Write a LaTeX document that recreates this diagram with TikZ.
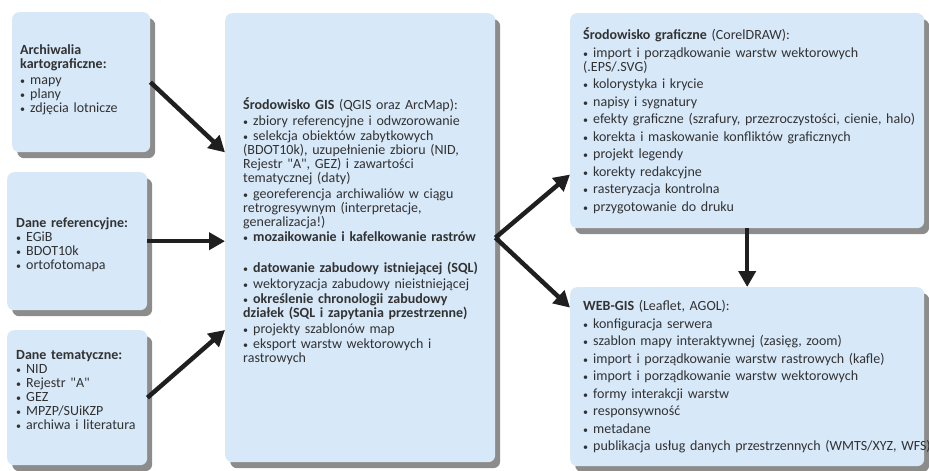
\documentclass[tikz,border=0pt]{standalone}
\usepackage{fontspec}
\setmainfont{Carlito}
\usetikzlibrary{arrows.meta,calc,shadows}
\definecolor{boxblue}{RGB}{215,232,249}
\definecolor{shade}{RGB}{140,140,140}
\definecolor{txtgray}{RGB}{50,50,50}
\newcommand{\itm}[1]{\par\hangindent=10pt\hangafter=1\noindent\makebox[10pt][l]{\fontsize{10}{10}\selectfont\textbullet}#1}
\newcommand{\qq}{\textquotedbl}
\begin{document}
\begin{tikzpicture}[x=1pt,y=-1pt,
  box/.style={fill=boxblue, rounded corners=7pt, anchor=north west, inner sep=0pt,
    general shadow={fill=shade, shadow xshift=5pt, shadow yshift=-6pt}},
  txt/.style={anchor=west, align=left, inner sep=0pt, text=txtgray,
    font=\fontsize{14}{14}\selectfont, text width=#1},
  arr/.style={line width=4.5pt, draw=black!88, -{Triangle[length=16pt,width=17pt]}}
]
\useasboundingbox (0,0) rectangle (929,471);

% boxes
\node[box, minimum width=138pt, minimum height=140pt] (A) at (12,12) {};
\node[box, minimum width=140pt, minimum height=138pt] (B) at (7,172) {};
\node[box, minimum width=140pt, minimum height=135pt] (C) at (7,330) {};
\node[box, minimum width=270pt, minimum height=449pt] (GIS) at (225,13) {};
\node[box, minimum width=354pt, minimum height=215pt] (D) at (570,13) {};
\node[box, minimum width=354pt, minimum height=179pt] (E) at (570,287) {};

% texts
\node[txt=128pt] (At) at ($(A.west)+(8,-2)$)
  {\setlength{\parskip}{0pt}\textbf{Archiwalia}\\\textbf{kartograficzne:}\par\vspace{2pt}\itm{mapy}\itm{plany}\itm{zdjęcia lotnicze}};
\node[txt=128pt] (Bt) at ($(B.west)+(9,4)$)
  {\setlength{\parskip}{0pt}\textbf{Dane referencyjne:}\itm{EGiB}\itm{BDOT10k}\itm{ortofotomapa}};
\node[txt=128pt] (Ct) at ($(C.west)+(9,-8)$)
  {\setlength{\parskip}{0pt}\textbf{Dane tematyczne:}\itm{NID}\itm{Rejestr \qq A\qq}\itm{GEZ}\itm{MPZP/SUiKZP}\itm{archiwa i literatura}};
\node[txt=260pt] (GISt) at ($(GIS.west)+(18,-6)$)
  {\setlength{\parskip}{1.5pt}\textbf{Środowisko GIS} (QGIS oraz ArcMap):%
   \itm{zbiory referencyjne i odwzorowanie}%
   \itm{selekcja obiektów zabytkowych\\(BDOT10k), uzupełnienie zbioru (NID,\\Rejestr \qq A\qq, GEZ) i zawartości\\tematycznej (daty)}%
   \itm{georeferencja archiwaliów w ciągu\\retrogresywnym (interpretacje,\\generalizacja!)}%
   \itm{\textbf{mozaikowanie i kafelkowanie rastrów}}%
   \par\mbox{}%
   \itm{\textbf{datowanie zabudowy istniejącej (SQL)}}%
   \itm{wektoryzacja zabudowy nieistniejącej}%
   \itm{\textbf{określenie chronologii zabudowy}\\\textbf{działek (SQL i zapytania przestrzenne)}}%
   \itm{projekty szablonów map}%
   \itm{eksport warstw wektorowych i\\rastrowych}};
\node[txt=350pt] (Dt) at ($(D.west)+(13,0)$)
  {\setlength{\parskip}{3.5pt}\textbf{Środowisko graficzne} (CorelDRAW):%
   \itm{import i porządkowanie warstw wektorowych\\(.EPS/.SVG)}%
   \itm{kolorystyka i krycie}%
   \itm{napisy i sygnatury}%
   \itm{efekty graficzne (szrafury, przezroczystości, cienie, halo)}%
   \itm{korekta i maskowanie konfliktów graficznych}%
   \itm{projekt legendy}%
   \itm{korekty redakcyjne}%
   \itm{rasteryzacja kontrolna}%
   \itm{przygotowanie do druku}};
\node[txt=350pt] (Et) at ($(E.west)+(13,0)$)
  {\setlength{\parskip}{3.5pt}\textbf{WEB-GIS} (Leaflet, AGOL):%
   \itm{konfiguracja serwera}%
   \itm{szablon mapy interaktywnej (zasięg, zoom)}%
   \itm{import i porządkowanie warstw rastrowych (kafle)}%
   \itm{import i porządkowanie warstw wektorowych}%
   \itm{formy interakcji warstw}%
   \itm{responsywność}%
   \itm{metadane}%
   \itm{publikacja usług danych przestrzennych (WMTS/XYZ, WFS)}};

% arrows
\draw[arr] (A.east) -- (GIS.west |- A.south);
\draw[arr] (B.east) -- (B.east -| GIS.west);
\draw[arr] (C.east) -- (GIS.west |- C.north);
\draw[arr] (GIS.east) -- ($(D.south west)!0.5!(D.west)$);
\draw[arr] (GIS.east) -- ($(E.north west)!0.23!(E.west)$);
\draw[arr] (D.south) -- (E.north);
\end{tikzpicture}
\end{document}
